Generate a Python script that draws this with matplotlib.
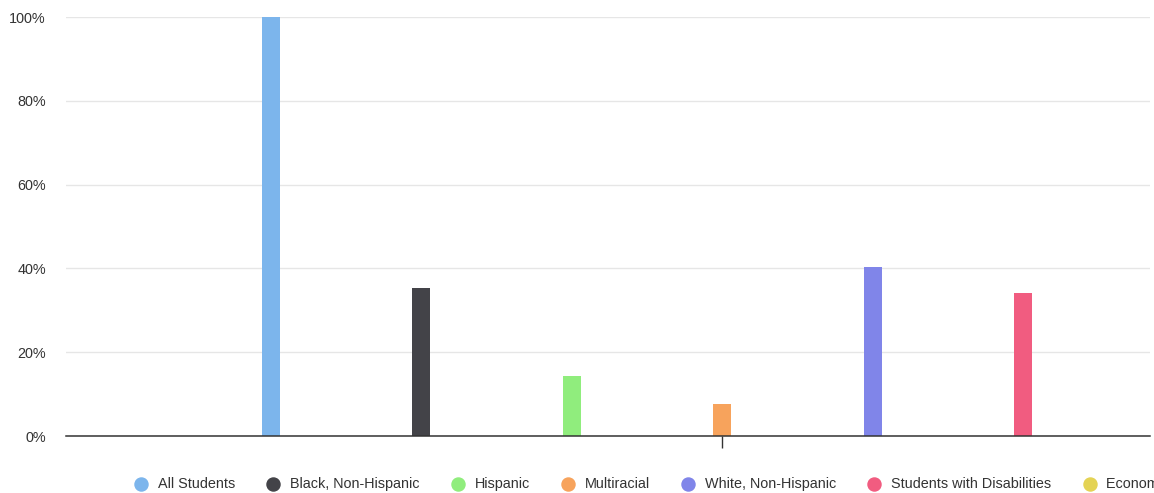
import matplotlib
matplotlib.use("Agg")
import matplotlib.pyplot as plt
from matplotlib.lines import Line2D
from matplotlib.ticker import FuncFormatter

plt.rcParams['font.family'] = ['Liberation Sans', 'DejaVu Sans']

groups = ["All Students", "Black, Non-Hispanic", "Hispanic", "Multiracial",
          "White, Non-Hispanic", "Students with Disabilities", "Economically Disadvantaged"]
values = [100.0, 35.3, 14.3, 7.6, 40.3, 34.1, None]   # last one falls outside the visible area
colors = ["#7cb5ec", "#434348", "#90ed7d", "#f7a35c", "#8085e9", "#f15c80", "#e4d354"]
y_ticks = [0, 20, 40, 60, 80, 100]

W, H, DPI = 1154, 493, 100
fig = plt.figure(figsize=(W / DPI, H / DPI), dpi=DPI)
ax = fig.add_axes([66 / W, (H - 436) / H, (1150 - 66) / W, 419 / H])

for i, (v, c) in enumerate(zip(values, colors)):
    if v is None:
        continue
    ax.bar(i, v, width=0.12, color=c, zorder=3)

ax.set_xlim(-1.362, 5.841)
ax.set_ylim(0, 100)
ax.set_yticks(y_ticks)
ax.yaxis.set_major_formatter(FuncFormatter(lambda v, p: f"{v:.0f}%"))
ax.set_xticks([3])
ax.set_xticklabels([""])
ax.grid(axis='y', color='#e6e6e6', linewidth=1, zorder=0)
ax.tick_params(axis='y', length=0, pad=14.5, labelsize=10.4, labelcolor='#333333')
ax.tick_params(axis='x', length=8.5, width=1, color='#333333', direction='out')
for s in ['top', 'right', 'left']:
    ax.spines[s].set_visible(False)
ax.spines['bottom'].set_color('#333333')
ax.spines['bottom'].set_linewidth(1.1)
ax.spines['bottom'].set_zorder(4)

# legend drawn item by item, like the cropped original
fig.canvas.draw()
renderer = fig.canvas.get_renderer()
x = 141
ly = (H - 484) / H
for label, c in zip(groups, colors):
    fig.add_artist(Line2D([x / W], [ly], marker='o', markersize=9.4, color=c,
                          linestyle='none', transform=fig.transFigure))
    t = fig.text((x + 17) / W, ly, label, fontsize=10.4, color='#333333',
                 ha='left', va='center')
    w = t.get_window_extent(renderer).width
    x = x + 17 + w + 38

fig.savefig("out.png", dpi=DPI)
